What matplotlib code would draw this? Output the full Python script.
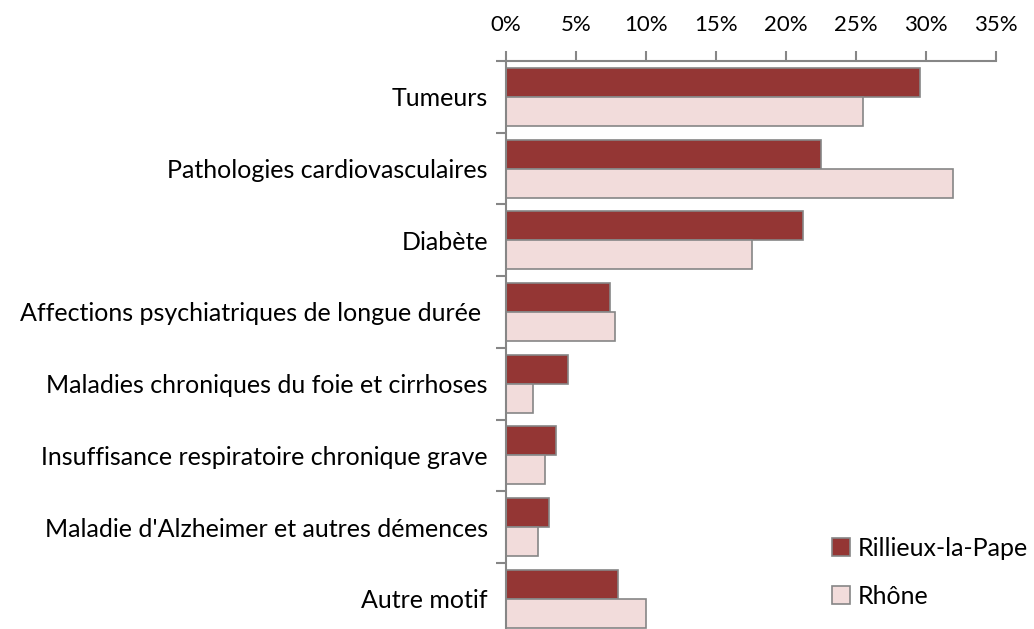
import numpy as np
import matplotlib
matplotlib.use("Agg")
import matplotlib.pyplot as plt
from matplotlib.ticker import FixedLocator, PercentFormatter

categories = [
    "Tumeurs",
    "Pathologies cardiovasculaires",
    "Diabète",
    "Affections psychiatriques de longue durée ",
    "Maladies chroniques du foie et cirrhoses",
    "Insuffisance respiratoire chronique grave",
    "Maladie d'Alzheimer et autres démences",
    "Autre motif",
]
rillieux = [29.6, 22.5, 21.2, 7.4, 4.4, 3.6, 3.1, 8.0]
rhone = [25.5, 31.9, 17.6, 7.8, 1.9, 2.8, 2.3, 10.0]
series_names = ["Rillieux-la-Pape", "Rhône"]

dark = "#943634"
light = "#F2DCDB"
edge = "#868686"

plt.rcParams["font.family"] = ["Lato", "DejaVu Sans"]

fig = plt.figure(figsize=(10.34, 6.29), dpi=100)
ax = fig.add_axes([0.4894, -0.009, 0.4739, 0.912])

y = np.arange(len(categories))
h = 0.405
b1 = ax.barh(y - h / 2, rillieux, height=h, color=dark, edgecolor=edge,
             linewidth=1.2, label=series_names[0])
b2 = ax.barh(y + h / 2, rhone, height=h, color=light, edgecolor=edge,
             linewidth=1.2, label=series_names[1])

ax.set_xlim(0, 35)
ax.set_ylim(len(categories) - 0.5, -0.5)
ax.xaxis.tick_top()
ax.set_xticks(np.arange(0, 36, 5))
ax.xaxis.set_major_formatter(PercentFormatter(decimals=0))
ax.tick_params(axis="x", direction="out", length=7, width=1.5, color=edge,
               labelsize=16, pad=12)

ax.set_yticks(y)
ax.set_yticklabels(categories, fontsize=18)
ax.yaxis.set_minor_locator(FixedLocator(np.arange(-0.5, len(categories), 1)))
ax.tick_params(axis="y", which="major", length=0, pad=13)
ax.tick_params(axis="y", which="minor", direction="out", length=7,
               width=1.5, color=edge)

for side in ["right", "bottom"]:
    ax.spines[side].set_visible(False)
for side in ["left", "top"]:
    ax.spines[side].set_color(edge)
    ax.spines[side].set_linewidth(1.5)

fig.legend(handles=[b1, b2], loc="center left",
           bbox_to_anchor=(0.805, 0.09), frameon=False,
           fontsize=18, handlelength=0.7, handleheight=0.7,
           handletextpad=0.3, labelspacing=1.0, borderaxespad=0,
           borderpad=0)

fig.savefig("out.png", dpi=100)
